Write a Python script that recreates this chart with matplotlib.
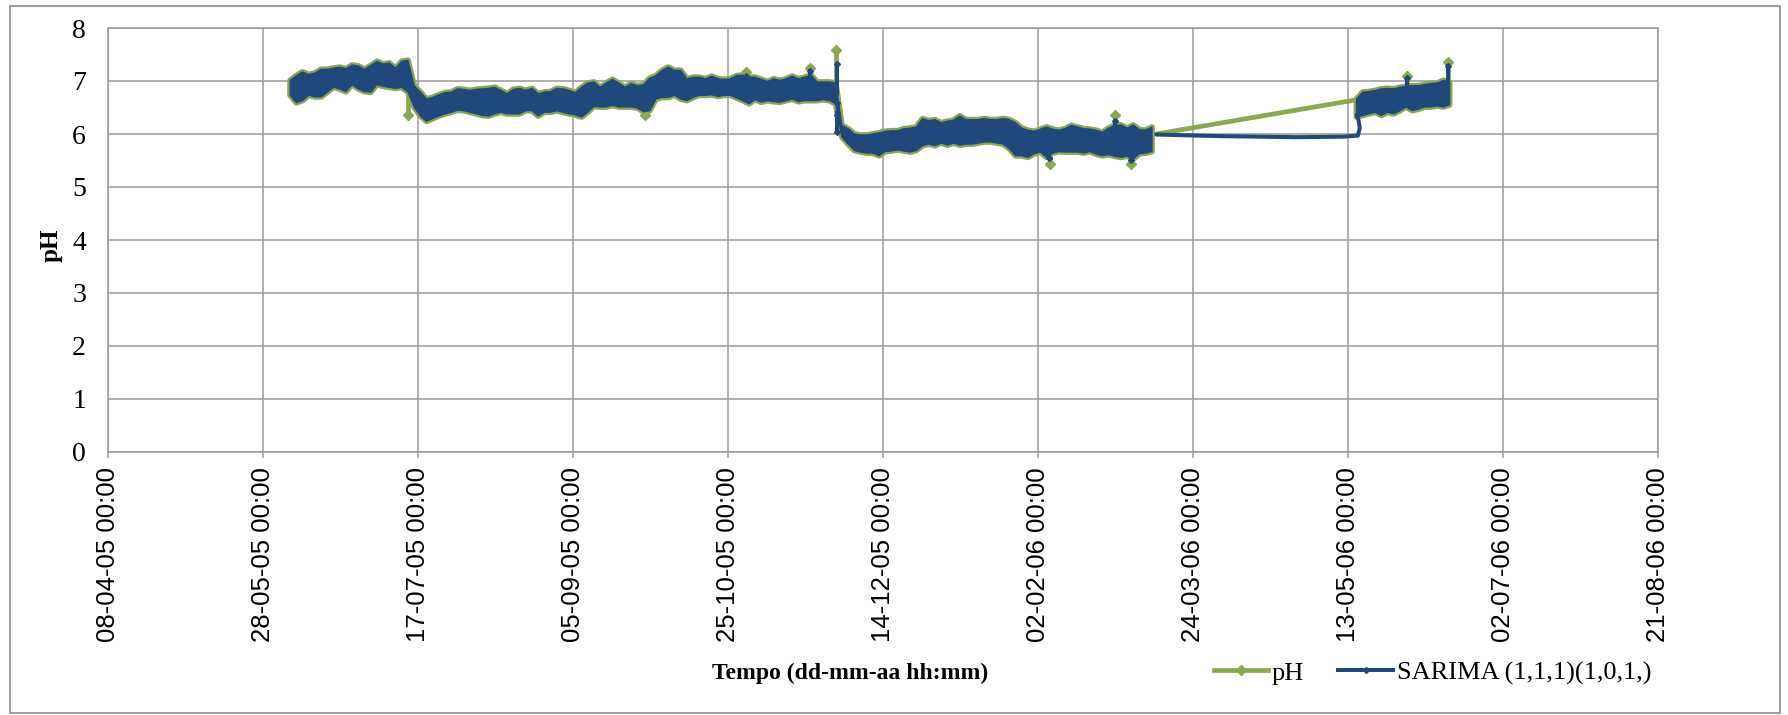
import matplotlib
matplotlib.use("Agg")
import matplotlib.pyplot as plt
from matplotlib.lines import Line2D
from matplotlib.patches import Rectangle
import matplotlib.dates as mdates
import numpy as np
import pandas as pd

# dia 0 da série
start = pd.Timestamp("2005-06-05 12:00")

# faixa diária (máx / mín) da série horária, de 2 em 2 dias
seg1_day = np.arange(0, 280, 2)
seg1_hi = [7.02, 7.11, 7.18, 7.13, 7.16, 7.23, 7.23, 7.25, 7.27, 7.24,
           7.31, 7.29, 7.23, 7.30, 7.38, 7.33, 7.35, 7.25, 7.38, 7.40,
           6.92, 6.80, 6.67, 6.70, 6.75, 6.79, 6.80, 6.86, 6.85, 6.83,
           6.85, 6.86, 6.87, 6.89, 6.83, 6.77, 6.85, 6.87, 6.83, 6.87,
           6.77, 6.80, 6.81, 6.87, 6.86, 6.83, 6.79, 6.89, 6.97, 6.99,
           6.89, 6.97, 7.04, 6.97, 6.89, 6.96, 6.92, 6.94, 7.06, 7.11,
           7.21, 7.27, 7.21, 7.21, 7.05, 7.08, 7.08, 7.05, 7.10, 7.05,
           7.04, 7.05, 7.11, 7.12, 7.08, 7.08, 7.04, 7.00, 7.05, 7.02,
           7.05, 7.10, 7.05, 7.08, 7.12, 6.99, 6.99, 6.99, 6.97, 6.17,
           6.11, 6.01, 5.99, 5.99, 6.01, 6.03, 6.06, 6.07, 6.07, 6.11,
           6.12, 6.14, 6.30, 6.26, 6.28, 6.22, 6.25, 6.27, 6.35, 6.28,
           6.28, 6.28, 6.30, 6.28, 6.28, 6.30, 6.28, 6.22, 6.12, 6.08,
           6.06, 6.10, 6.14, 6.10, 6.08, 6.11, 6.17, 6.14, 6.11, 6.10,
           6.08, 6.04, 6.12, 6.17, 6.18, 6.12, 6.18, 6.09, 6.08, 6.14]
seg1_lo = [6.74, 6.60, 6.64, 6.74, 6.71, 6.71, 6.80, 6.89, 6.86, 6.81,
           6.94, 6.86, 6.81, 6.80, 6.94, 6.91, 6.89, 6.87, 6.89, 6.80,
           6.52, 6.35, 6.25, 6.30, 6.35, 6.39, 6.42, 6.46, 6.45, 6.42,
           6.39, 6.36, 6.35, 6.39, 6.42, 6.39, 6.39, 6.39, 6.45, 6.45,
           6.35, 6.42, 6.42, 6.45, 6.42, 6.39, 6.37, 6.33, 6.42, 6.53,
           6.52, 6.52, 6.55, 6.52, 6.52, 6.52, 6.50, 6.43, 6.45, 6.67,
           6.70, 6.70, 6.74, 6.67, 6.64, 6.70, 6.74, 6.74, 6.75, 6.72,
           6.74, 6.74, 6.69, 6.64, 6.58, 6.66, 6.61, 6.64, 6.62, 6.61,
           6.64, 6.67, 6.62, 6.64, 6.64, 6.64, 6.66, 6.64, 6.58, 5.95,
           5.82, 5.70, 5.67, 5.65, 5.65, 5.60, 5.68, 5.69, 5.71, 5.69,
           5.67, 5.70, 5.79, 5.82, 5.79, 5.84, 5.80, 5.84, 5.80, 5.82,
           5.82, 5.84, 5.86, 5.86, 5.84, 5.82, 5.73, 5.60, 5.60, 5.57,
           5.64, 5.67, 5.57, 5.65, 5.68, 5.67, 5.67, 5.67, 5.65, 5.68,
           5.63, 5.60, 5.62, 5.59, 5.57, 5.59, 5.54, 5.64, 5.65, 5.68]

seg2_day = np.arange(344, 376, 2)
seg2_hi = [6.67, 6.80, 6.81, 6.83, 6.86, 6.87, 6.86, 6.89,
           6.91, 6.92, 6.92, 6.94, 6.96, 6.97, 7.02, 6.99]
seg2_lo = [6.33, 6.36, 6.39, 6.42, 6.36, 6.42, 6.39, 6.45,
           6.52, 6.45, 6.48, 6.52, 6.52, 6.54, 6.52, 6.56]

# pH: ligação directa sobre a falha de dados
ph_gap_day = [279.6, 343.6]
ph_gap_val = [6.00, 6.64]

# SARIMA ao longo da falha
sarima_gap_day = [279.6, 300, 325, 340, 344.6, 345.2, 344.8, 344.2]
sarima_gap_val = [5.99, 5.96, 5.94, 5.95, 5.97, 6.11, 6.26, 6.36]

# leituras isoladas fora da faixa
ph_spike_day = [38.2, 114.5, 147.1, 167.7, 176.4, 245.2, 266.3, 271.5, 360.4, 373.7]
ph_spike_val = [6.36, 6.36, 7.17, 7.25, 7.58, 5.43, 6.36, 5.43, 7.10, 7.36]
sarima_spike_day = [147.1, 167.7, 176.5, 176.6, 176.6, 176.6, 244.8, 266.3, 271.5, 360.4, 373.7]
sarima_spike_val = [7.10, 7.18, 7.33, 6.58, 6.36, 6.04, 5.54, 6.24, 5.51, 7.05, 7.29]

tick_dates = pd.date_range("2005-04-08", periods=11, freq="50D")

GREEN = "#8AA84E"
BLUE = "#1F497D"
GRID = "#9A9A9A"
SERIF = "Liberation Serif"


def to_num(days):
    return mdates.date2num(start + pd.to_timedelta(np.asarray(days, dtype=float), unit="D"))


all_day = np.concatenate([seg1_day, seg2_day])
all_hi = np.concatenate([seg1_hi, seg2_hi])
all_lo = np.concatenate([seg1_lo, seg2_lo])


def draw_series(ax, color, edge_lw, gap_day, gap_val, sp_day, sp_val, lw, ms, z):
    # faixa densa dos dados horários
    for d, hi, lo in [(seg1_day, seg1_hi, seg1_lo), (seg2_day, seg2_hi, seg2_lo)]:
        ax.fill_between(to_num(d), lo, hi, facecolor=color, edgecolor=color,
                        linewidth=edge_lw, joinstyle="round", zorder=z)
    ax.plot(to_num(gap_day), gap_val, color=color, lw=lw, solid_capstyle="round",
            solid_joinstyle="round", zorder=z)
    # picos: traço desde a faixa até ao valor
    for d, v in zip(sp_day, sp_val):
        hi = np.interp(d, all_day, all_hi)
        lo = np.interp(d, all_day, all_lo)
        base = hi if v > hi else (lo if v < lo else v)
        t = to_num([d, d])
        ax.plot(t, [base, v], color=color, lw=lw, zorder=z)
        ax.plot(t[1:], [v], marker="D", ms=ms, color=color, mec=color, zorder=z)


fig = plt.figure(figsize=(17.88, 7.15), dpi=100)
ax = fig.add_axes([108.3 / 1788, 1 - 452 / 715, 1550 / 1788, 424 / 715])

draw_series(ax, GREEN, 4.2, ph_gap_day, ph_gap_val, ph_spike_day, ph_spike_val, 3.4, 5.2, 3)
draw_series(ax, BLUE, 1.0, sarima_gap_day, sarima_gap_val, sarima_spike_day, sarima_spike_val, 2.9, 3.0, 4)

ax.set_xlim(mdates.date2num(tick_dates[0]), mdates.date2num(tick_dates[-1]))
ax.set_ylim(0, 8)
ax.set_yticks(range(0, 9))
ax.set_xticks(mdates.date2num(tick_dates))
ax.set_xticklabels([d.strftime("%d-%m-%y %H:%M") for d in tick_dates],
                   rotation=90, family="Liberation Sans", fontsize=18.5)
for lab in ax.get_yticklabels():
    lab.set_family(SERIF)
    lab.set_fontsize(20)

ax.grid(True, color=GRID, lw=1.1, zorder=0)
ax.set_axisbelow(True)
for s in ax.spines.values():
    s.set_color(GRID)
    s.set_linewidth(1.1)
ax.tick_params(axis="x", length=4, width=1.1, color=GRID, pad=7)
ax.tick_params(axis="y", length=0, pad=16)

fig.text(51 / 1788, 1 - 245 / 715, "pH", rotation=90, ha="center", va="center",
         family=SERIF, fontweight="bold", fontsize=18)
fig.text(850 / 1788, 1 - 673 / 715, "Tempo (dd-mm-aa hh:mm)", ha="center", va="center",
         family=SERIF, fontweight="bold", fontsize=17)

handles = [Line2D([], [], color=GREEN, lw=3.4, marker="D", ms=5),
           Line2D([], [], color=BLUE, lw=2.9, marker="D", ms=3)]
fig.legend(handles, ["pH", "SARIMA (1,1,1)(1,0,1,)"], ncol=2, frameon=False,
           loc="center left", bbox_to_anchor=(1190 / 1788, 1 - 673 / 715),
           prop={"family": SERIF, "size": 19}, handlelength=2.05,
           handletextpad=0.15, columnspacing=1.3)

# moldura do gráfico
fig.patches.append(Rectangle((10 / 1788, 2 / 715), 1770 / 1788, 707 / 715,
                             transform=fig.transFigure, fill=False,
                             ec="#8C8C8C", lw=1.2))

fig.savefig("out.png", dpi=100)
